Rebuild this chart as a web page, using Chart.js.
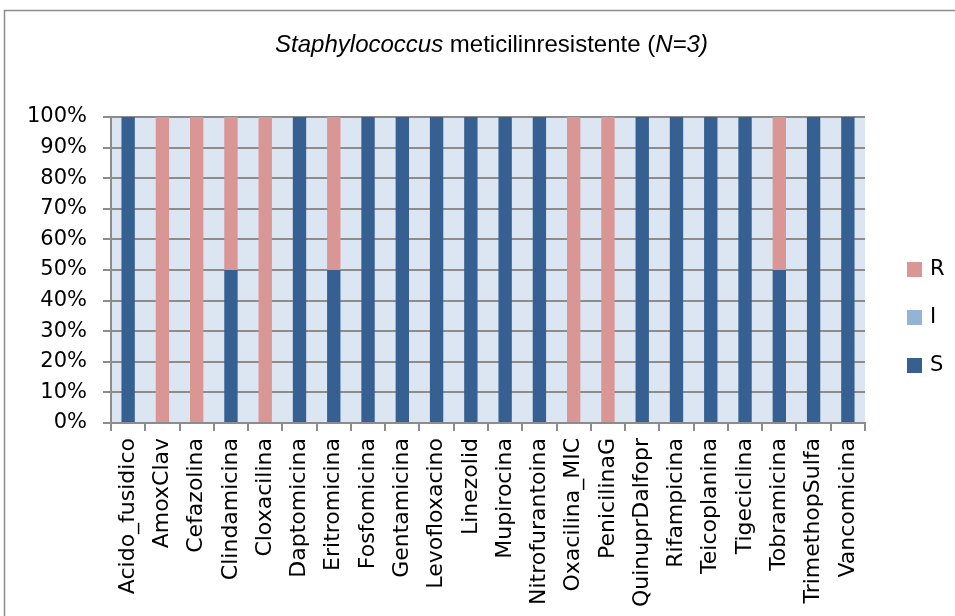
<!DOCTYPE html>
<html>
<head>
<meta charset="utf-8">
<script src="https://cdn.jsdelivr.net/npm/chart.js"></script>
<style>
    html, body { margin: 0; padding: 0; background: #fff; }
    #wrap { width: 955px; height: 616px; position: relative; }
</style>
</head>
<body>
<div id="wrap"><canvas id="chart" width="955" height="616"></canvas></div>
<script>
// Antibiotics on the x axis
const categories = [
    'Acido_fusidico', 'AmoxClav', 'Cefazolina', 'Clindamicina', 'Cloxacilina',
    'Daptomicina', 'Eritromicina', 'Fosfomicina', 'Gentamicina', 'Levofloxacino',
    'Linezolid', 'Mupirocina', 'Nitrofurantoina', 'Oxacilina_MIC', 'PenicilinaG',
    'QuinuprDalfopr', 'Rifampicina', 'Teicoplanina', 'Tigeciclina', 'Tobramicina',
    'TrimethopSulfa', 'Vancomicina'
];

// Percentages per category
const seriesS = [100, 0, 0, 50, 0, 100, 50, 100, 100, 100, 100, 100, 100, 0, 0, 100, 100, 100, 100, 50, 100, 100];
const seriesI = [0, 0, 0, 0, 0, 0, 0, 0, 0, 0, 0, 0, 0, 0, 0, 0, 0, 0, 0, 0, 0, 0];
const seriesR = [0, 100, 100, 50, 100, 0, 50, 0, 0, 0, 0, 0, 0, 100, 100, 0, 0, 0, 0, 50, 0, 0];

const yTickValues = [0, 10, 20, 30, 40, 50, 60, 70, 80, 90, 100];

// Title pieces: [text, italic]
const titleParts = [
    ['Staphylococcus', true],
    [' meticilinresistente (', false],
    ['N=3)', true]
];

const colors = { S: '#376092', I: '#95B3D7', R: '#D99694' };
const gridGray = '#8c8c8c';
const labelFont = 'DejaVu Sans';

// White background and the outer frame
const framePlugin = {
    id: 'frame',
    beforeDraw(chart) {
        const c = chart.ctx;
        c.save();
        c.fillStyle = '#fff';
        c.fillRect(0, 0, chart.width, chart.height);
        c.strokeStyle = '#8c8c8c';
        c.lineWidth = 1.5;
        c.strokeRect(4.5, 10.5, chart.width + 10, chart.height + 10);
        c.restore();
    }
};

// Plot area fill
const plotBgPlugin = {
    id: 'plotBg',
    beforeDraw(chart) {
        const a = chart.chartArea;
        const c = chart.ctx;
        c.save();
        c.fillStyle = '#DCE6F2';
        c.fillRect(a.left, a.top, a.right - a.left, a.bottom - a.top);
        c.restore();
    }
};

// Title with mixed italic pieces
const titlePlugin = {
    id: 'mixedTitle',
    afterDraw(chart) {
        const c = chart.ctx;
        c.save();
        c.fillStyle = '#000';
        c.textBaseline = 'alphabetic';
        const fontFor = it => (it ? 'italic ' : '') + '24px "Liberation Sans", Arial, sans-serif';
        let total = 0;
        titleParts.forEach(([t, it]) => { c.font = fontFor(it); total += c.measureText(t).width; });
        let x = 491.5 - total / 2;
        titleParts.forEach(([t, it]) => {
            c.font = fontFor(it);
            c.fillText(t, x, 52);
            x += c.measureText(t).width;
        });
        c.restore();
    }
};

// Legend on the right, R / I / S top to bottom
const legendPlugin = {
    id: 'sideLegend',
    afterDraw(chart) {
        const c = chart.ctx;
        c.save();
        c.font = '21px "' + labelFont + '"';
        c.textBaseline = 'middle';
        const items = chart.data.datasets.slice().reverse();
        items.forEach((ds, i) => {
            const y = 262 + i * 48;
            c.fillStyle = ds.backgroundColor;
            c.fillRect(907, y, 15, 15);
            c.fillStyle = '#000';
            c.fillText(ds.label, 930, y + 8);
        });
        c.restore();
    }
};

const ctx = document.getElementById('chart').getContext('2d');
new Chart(ctx, {
    type: 'bar',
    data: {
        labels: categories,
        datasets: [
            { label: 'S', data: seriesS, backgroundColor: colors.S },
            { label: 'I', data: seriesI, backgroundColor: colors.I },
            { label: 'R', data: seriesR, backgroundColor: colors.R }
        ]
    },
    options: {
        responsive: false,
        animation: false,
        devicePixelRatio: 1,
        layout: {
            padding: { top: 117, right: 90, left: 0, bottom: 0 }
        },
        datasets: {
            bar: {
                barPercentage: 0.39,
                categoryPercentage: 1,
                borderWidth: 0
            }
        },
        plugins: {
            legend: { display: false },
            title: { display: false },
            tooltip: { enabled: false }
        },
        scales: {
            x: {
                stacked: true,
                afterFit: s => { s.height = 193; },
                grid: {
                    offset: true,
                    drawOnChartArea: false,
                    drawTicks: true,
                    tickLength: 8,
                    color: gridGray,
                    lineWidth: 2
                },
                border: { color: gridGray, width: 2 },
                ticks: {
                    minRotation: 90,
                    maxRotation: 90,
                    autoSkip: false,
                    padding: 7,
                    color: '#000',
                    font: { family: labelFont, size: 22 }
                }
            },
            y: {
                stacked: true,
                min: 0,
                max: 100,
                afterFit: s => { s.width = 111; },
                afterBuildTicks: s => { s.ticks = yTickValues.map(v => ({ value: v })); },
                grid: {
                    color: gridGray,
                    lineWidth: 2,
                    tickLength: 8
                },
                border: { color: gridGray, width: 2 },
                ticks: {
                    padding: 16,
                    color: '#000',
                    font: { family: labelFont, size: 21 },
                    callback: v => v + '%'
                }
            }
        }
    },
    plugins: [framePlugin, plotBgPlugin, titlePlugin, legendPlugin]
});
</script>
</body>
</html>
